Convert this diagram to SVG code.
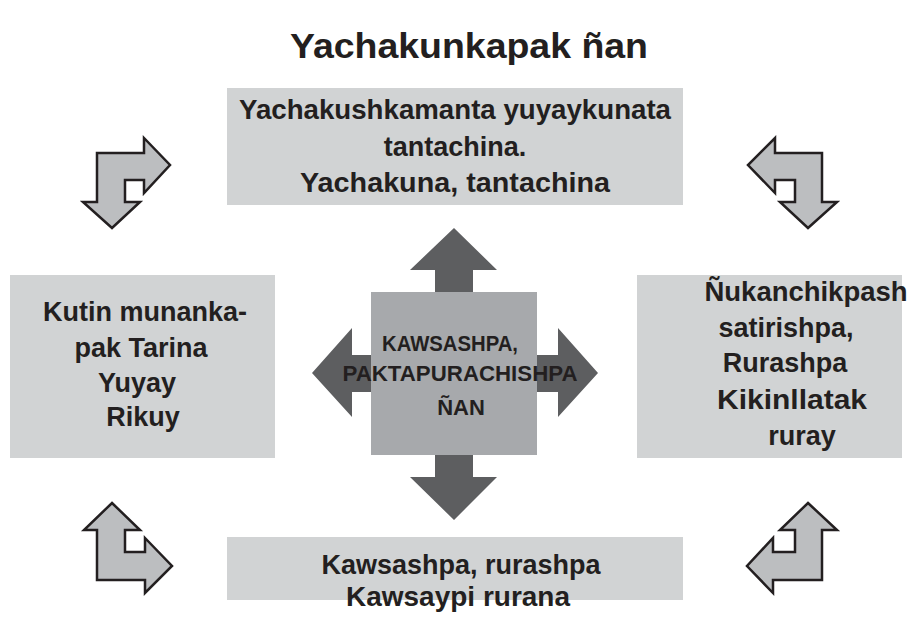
<svg xmlns="http://www.w3.org/2000/svg" width="911" height="629" viewBox="0 0 911 629">
  <style>
    .box { fill: #d1d3d4; }
    .core { fill: #a7a9ac; }
    .dark { fill: #5d5e60; }
    .turn { fill: #bcbec0; stroke: #231f20; stroke-width: 2.5; stroke-linejoin: miter; }
    text { font-family: "Liberation Sans", Arial, sans-serif; font-weight: bold; fill: #231f20; text-anchor: middle; }
    .lbl { font-size: 27px; }
    .mid { font-size: 22px; }
    .title { font-size: 35px; }
  </style>

  <rect width="911" height="629" fill="#ffffff"/>

  <text class="title" x="469" y="58" textLength="358" lengthAdjust="spacingAndGlyphs">Yachakunkapak ñan</text>

  <!-- corner turn arrows and the four radiating arrows -->
  <g id="connectors">
    <polygon class="turn" points="97,153 144,153 144,138 170,165 144,193 144,180 125,180 125,202 140,202 112,228 83,202 97,202"/>
    <polygon class="turn" points="775,153 822,153 822,202 837,202 808,228 780,202 795,202 795,180 775,180 775,193 748,165 775,138"/>
    <polygon class="turn" points="112,503 140,530 125,530 125,552 145,552 145,538 172,566 145,593 145,580 97,580 97,530 84,530"/>
    <polygon class="turn" points="808,503 837,530 822,530 822,580 773,580 773,593 747,566 773,538 773,552 795,552 795,530 780,530"/>

    <polygon class="dark" points="454,228 497,270 473,270 473,292 435,292 435,270 410,270"/>
    <polygon class="dark" points="454,520 497,477 473,477 473,455 435,455 435,477 410,477"/>
    <polygon class="dark" points="312,373 352,328 352,355 371,355 371,392 352,392 352,417"/>
    <polygon class="dark" points="598,373 558,328 558,355 537,355 537,392 558,392 558,417"/>
  </g>

  <g id="top">
    <rect class="box" x="227" y="88" width="456" height="117"/>
    <text class="lbl" x="455" y="119" textLength="432" lengthAdjust="spacingAndGlyphs">Yachakushkamanta yuyaykunata</text>
    <text class="lbl" x="455" y="156">tantachina.</text>
    <text class="lbl" x="455" y="192" textLength="310" lengthAdjust="spacingAndGlyphs">Yachakuna, tantachina</text>
  </g>

  <g id="left">
    <rect class="box" x="10" y="275" width="265" height="183"/>
    <text class="lbl" x="145" y="321">Kutin munanka-</text>
    <text class="lbl" x="141" y="357">pak Tarina</text>
    <text class="lbl" x="137" y="392">Yuyay</text>
    <text class="lbl" x="143" y="426">Rikuy</text>
  </g>

  <g id="right">
    <rect class="box" x="637" y="275" width="265" height="183"/>
    <text class="lbl" x="806" y="301" textLength="203" lengthAdjust="spacingAndGlyphs">Ñukanchikpash</text>
    <text class="lbl" x="786" y="337">satirishpa,</text>
    <text class="lbl" x="785" y="372">Rurashpa</text>
    <text class="lbl" x="792" y="409" textLength="150" lengthAdjust="spacingAndGlyphs">Kikinllatak</text>
    <text class="lbl" x="802" y="445">ruray</text>
  </g>

  <g id="bottom">
    <rect class="box" x="227" y="537" width="456" height="63"/>
    <text class="lbl" x="461" y="574">Kawsashpa, rurashpa</text>
    <text class="lbl" x="458" y="606" textLength="224" lengthAdjust="spacingAndGlyphs">Kawsaypi rurana</text>
  </g>

  <g id="center">
    <rect class="core" x="371" y="292" width="166" height="163"/>
    <text class="mid" x="450" y="351" textLength="136" lengthAdjust="spacingAndGlyphs">KAWSASHPA,</text>
    <text class="mid" x="460" y="381" textLength="235" lengthAdjust="spacingAndGlyphs">PAKTAPURACHISHPA</text>
    <text class="mid" x="461" y="415">ÑAN</text>
  </g>
</svg>
